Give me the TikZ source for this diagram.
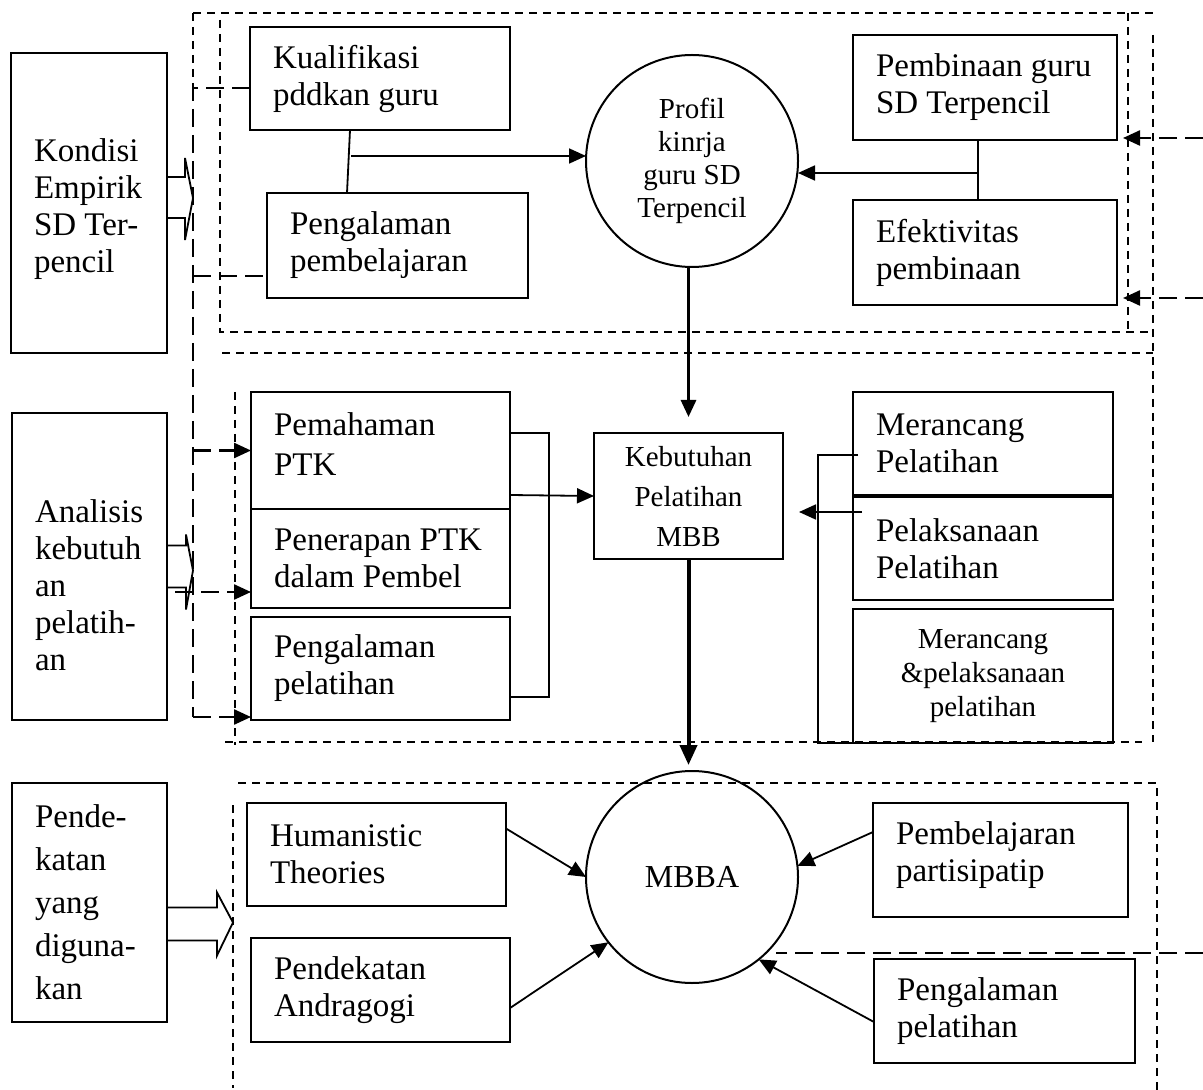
\documentclass[tikz,border=0pt]{standalone}
\usepackage{fontspec}
\setmainfont{Liberation Serif}
\usetikzlibrary{positioning,arrows.meta,calc}
\hyphenpenalty=10000
\exhyphenpenalty=10000

\newcommand{\teksbesar}{\fontsize{16.5}{18.5}\selectfont}
\newcommand{\tekskecil}{\fontsize{14.5}{17}\selectfont}

\tikzset{
  kotak/.style={draw, line width=1pt, anchor=north west, inner xsep=11.5pt, inner ysep=0pt, outer sep=0pt, align=flush left, font=\teksbesar},
  kotakc/.style={draw, line width=1pt, anchor=north west, inner sep=0pt, outer sep=0pt, align=flush center, font=\tekskecil},
  lingkar/.style={draw, circle, line width=1pt, minimum size=106pt, inner sep=0pt, outer sep=0pt, align=flush center},
  panah/.style={-{Triangle[length=8.5pt,width=7.5pt]}, line width=0.9pt},
  tebal/.style={-{Triangle[length=10pt,width=8.5pt]}, line width=2pt},
  putus/.style={dash pattern=on 9pt off 4pt, line width=1.2pt},
  bingkai/.style={dash pattern=on 4pt off 3pt, line width=0.8pt},
  balok/.style={line width=0.9pt},
}

\begin{document}
\begin{tikzpicture}[x=0.5pt,y=-0.5pt]
\useasboundingbox (0,0) rectangle (1203,1090);

% kolom kiri
\node[kotak, text width=55pt, minimum height=150pt] (kondisi) at (11,53) {\rule{0pt}{18pt}Kondisi\\Empirik\\SD Ter-\\pencil};
\node[kotak, text width=54.5pt, minimum height=153.5pt] (analisis) at (12,413) {\rule{0pt}{30pt}Analisis\\kebutuh\\an\\pelatih-\\an};
\node[kotak, text width=54.5pt, minimum height=119.5pt, font=\fontsize{16.5}{21.5}\selectfont] (pendekatan) at (12,783) {Pende-\\katan\\yang\\diguna-\\kan};

% bagian atas
\node[kotak, text width=107pt, minimum height=51.5pt] (kualifikasi) at (250,27) {Kualifikasi\\pddkan guru};
\node[kotak, text width=107.5pt, minimum height=52.5pt] (pengbelajar) at (267,193) {Pengalaman\\pembelajaran};
\node[lingkar, font=\fontsize{14.5}{16.5}\selectfont] (profil) at (692,161) {Profil\\kinrja\\guru SD\\Terpencil};
\node[kotak, text width=109pt, minimum height=52.5pt] (pembinaan) at (853,35) {\mbox{Pembinaan guru}\\SD Terpencil};
\node[kotak, text width=109pt, minimum height=52.5pt] (efektivitas) at (853,200) {Efektivitas\\pembinaan};

% bagian tengah
\node[kotak, text width=106.5pt, minimum height=58.5pt, font=\fontsize{16.5}{20}\selectfont] (pemahaman) at (251,392) {Pemahaman\\PTK\rule[-6pt]{0pt}{0pt}};
\node[kotak, text width=106.5pt, minimum height=49.5pt, below=0pt of pemahaman.south west, anchor=north west] (penerapan) {Penerapan PTK\\dalam Pembel};
\node[kotak, text width=106.5pt, minimum height=51.5pt] (pengpelatihan) at (251,617) {Pengalaman\\pelatihan};
\node[kotakc, text width=94.5pt, minimum height=63pt, font=\fontsize{14.5}{20}\selectfont] (kebutuhan) at (594,433) {Kebutuhan\\Pelatihan\\MBB};
\node[kotak, text width=107pt, minimum height=51.5pt] (merancang) at (853,392) {Merancang\\Pelatihan};
\node[kotak, text width=107pt, minimum height=51.5pt, below=1pt of merancang.south west, anchor=north west] (pelaksanaan) {Pelaksanaan\\Pelatihan};
\node[kotakc, text width=130pt, minimum height=67pt, below=4.5pt of pelaksanaan.south west, anchor=north west] (mrpl) {Merancang\\\&pelaksanaan\\pelatihan};

% bagian bawah
\node[kotak, text width=106.5pt, minimum height=51.5pt] (humanistic) at (247,803) {Humanistic\\Theories};
\node[kotak, text width=106.5pt, minimum height=52pt] (andragogi) at (251,938) {Pendekatan\\Andragogi};
\node[lingkar, font=\fontsize{16}{19}\selectfont] (mbba) at (692,877) {MBBA};
\node[kotak, text width=104.5pt, minimum height=57pt] (partisipatif) at (873,803) {Pembelajaran\\partisipatip\rule[-8pt]{0pt}{0pt}};
\node[kotak, text width=107.5pt, minimum height=52pt] (pengbawah) at (874,959) {Pengalaman\\pelatihan};

% bingkai putus-putus
\draw[bingkai] (193,13) -- (1155,13);
\draw[bingkai] (193,13) -- (193,88);
\draw[bingkai] (220,20) -- (220,332) -- (1153,332);
\draw[bingkai] (1128,13) -- (1128,332);
\draw[bingkai] (1153,35) -- (1153,742);
\draw[bingkai] (222,353) -- (1153,353);
\draw[bingkai] (235,392) -- (235,745);
\draw[bingkai] (225,742) -- (1142,742);
\draw[bingkai] (238,783) -- (1157,783) -- (1157,1090);
\draw[bingkai] (233,805) -- (233,1088);

% panah atas
\draw[balok] ([xshift=50pt]kualifikasi.south west) -- ([xshift=40pt]pengbelajar.north west);
\coordinate (k1) at (351,156);
\draw[panah] (k1) -- (k1 -| profil.west);
\draw[balok] ([xshift=62.5pt]pembinaan.south west) -- ([xshift=62.5pt]efektivitas.north west);
\coordinate (k2) at (978,173);
\draw[panah] (k2) -- (k2 -| profil.east);
\draw[panah, line width=1.5pt, shorten >=8pt] (kebutuhan.north |- profil.south) -- (kebutuhan.north);

% panah tengah
\draw[balok] ([yshift=-20.5pt]pemahaman.north east) -- ++(39,0) |- ([yshift=11.5pt]pengpelatihan.south east);
\draw[panah] ([yshift=7pt]pemahaman.south east) -- (kebutuhan.west);
\draw[tebal, shorten >=3pt] (kebutuhan.south) -- (kebutuhan.south |- mbba.north);
\draw[balok] ([xshift=2.5pt,yshift=-31.5pt]merancang.north west) -- ++(-40,0) |- (mrpl.south west);
\coordinate (k3) at ([xshift=4.5pt,yshift=-7.5pt]pelaksanaan.north west);
\draw[panah, shorten >=8pt] (k3) -- (k3 -| kebutuhan.east);

% panah bawah
\draw[panah] ([yshift=13pt]humanistic.east) -- (mbba.west);
\draw[panah] ([yshift=-9pt]andragogi.east) -- (mbba.218);
\draw[panah] ([yshift=14pt]partisipatif.west) -- (mbba.6);
\draw[panah] ([yshift=-5.5pt]pengbawah.west) -- (mbba.-51);

% jalur kiri
\coordinate (busatas) at (193,88);
\coordinate (busbawah) at (193,717);
\draw[putus] (busatas -| kualifikasi.west) -- (busatas) -- (busbawah);
\draw[panah, putus] (busbawah) -- (busbawah -| pengpelatihan.west);
\coordinate (b2) at (193,276);
\draw[putus] (b2) -- (b2 -| pengbelajar.west);
\draw[panah, putus] (pemahaman.west -| busatas) -- (pemahaman.west);
\coordinate (b3) at (175,592);
\draw[panah, putus] (b3) -- (b3 -| penerapan.west);

% panah kosong
\draw[balok] (kondisi.east) ++(0,-26) -- ++(18,0) -- ++(0,-19) -- ++(8,40) -- ++(-8,42) -- ++(0,-22) -- ++(-18,0);
\draw[balok] (analisis.east) ++(0,-21) -- ++(19,0) -- ++(0,-11) -- ++(7,36) -- ++(-7,39) -- ++(0,-22) -- ++(-19,0);
\draw[balok] (pendekatan.east) ++(0,5) -- ++(50,0) -- ++(0,-15) -- ++(16,30) -- ++(-16,33) -- ++(0,-15) -- ++(-50,0);

% garis kanan
\coordinate (ka1) at (1203,138);
\coordinate (ka2) at (1203,298);
\draw[panah, putus, shorten >=3pt] (ka1) -- (ka1 -| pembinaan.east);
\draw[panah, putus, shorten >=3pt] (ka2) -- (ka2 -| efektivitas.east);
\coordinate (ka3) at (1203,953);
\draw[putus] (ka3) -- (ka3 -| mbba.-38);
\end{tikzpicture}
\end{document}
